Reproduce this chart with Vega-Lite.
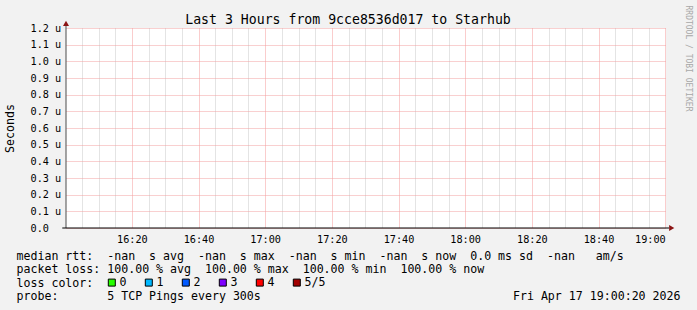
{
  "$schema": "https://vega.github.io/schema/vega-lite/v6.json",
  "width": 600,
  "height": 200,
  "autosize": {"type": "none"},
  "padding": {"left": 66, "top": 28, "right": 31, "bottom": 82},
  "background": "#f2f2f2",
  "title": {
    "text": "Last 3 Hours from 9cce8536d017 to Starhub",
    "font": "DejaVu Sans Mono",
    "fontSize": 13.2,
    "fontWeight": "normal",
    "color": "black",
    "anchor": "middle",
    "frame": "group",
    "dx": -18,
    "dy": 22,
    "offset": 0
  },
  "config": {
    "view": {"fill": "white", "stroke": null},
    "font": "DejaVu Sans Mono",
    "axis": {
      "labelFont": "DejaVu Sans Mono",
      "labelFontSize": 10.2,
      "labelColor": "black",
      "titleFont": "DejaVu Sans Mono",
      "titleFontSize": 11.6,
      "titleFontWeight": "normal",
      "titleColor": "black"
    },
    "legend": {
      "orient": "none",
      "legendX": 40,
      "legendY": 248.5,
      "direction": "horizontal",
      "labelFont": "DejaVu Sans Mono",
      "labelFontSize": 11.6,
      "labelColor": "black",
      "labelOffset": 2,
      "symbolType": "square",
      "symbolSize": 49,
      "symbolStrokeColor": "black",
      "symbolStrokeWidth": 1,
      "symbolOpacity": 1,
      "columnPadding": 16,
      "padding": 0
    }
  },
  "datasets": {
    "probes": [
      {"time": "2026-04-17T16:05:00", "median_rtt": null, "loss": "5/5"},
      {"time": "2026-04-17T16:10:00", "median_rtt": null, "loss": "5/5"},
      {"time": "2026-04-17T16:15:00", "median_rtt": null, "loss": "5/5"},
      {"time": "2026-04-17T16:20:00", "median_rtt": null, "loss": "5/5"},
      {"time": "2026-04-17T16:25:00", "median_rtt": null, "loss": "5/5"},
      {"time": "2026-04-17T16:30:00", "median_rtt": null, "loss": "5/5"},
      {"time": "2026-04-17T16:35:00", "median_rtt": null, "loss": "5/5"},
      {"time": "2026-04-17T16:40:00", "median_rtt": null, "loss": "5/5"},
      {"time": "2026-04-17T16:45:00", "median_rtt": null, "loss": "5/5"},
      {"time": "2026-04-17T16:50:00", "median_rtt": null, "loss": "5/5"},
      {"time": "2026-04-17T16:55:00", "median_rtt": null, "loss": "5/5"},
      {"time": "2026-04-17T17:00:00", "median_rtt": null, "loss": "5/5"},
      {"time": "2026-04-17T17:05:00", "median_rtt": null, "loss": "5/5"},
      {"time": "2026-04-17T17:10:00", "median_rtt": null, "loss": "5/5"},
      {"time": "2026-04-17T17:15:00", "median_rtt": null, "loss": "5/5"},
      {"time": "2026-04-17T17:20:00", "median_rtt": null, "loss": "5/5"},
      {"time": "2026-04-17T17:25:00", "median_rtt": null, "loss": "5/5"},
      {"time": "2026-04-17T17:30:00", "median_rtt": null, "loss": "5/5"},
      {"time": "2026-04-17T17:35:00", "median_rtt": null, "loss": "5/5"},
      {"time": "2026-04-17T17:40:00", "median_rtt": null, "loss": "5/5"},
      {"time": "2026-04-17T17:45:00", "median_rtt": null, "loss": "5/5"},
      {"time": "2026-04-17T17:50:00", "median_rtt": null, "loss": "5/5"},
      {"time": "2026-04-17T17:55:00", "median_rtt": null, "loss": "5/5"},
      {"time": "2026-04-17T18:00:00", "median_rtt": null, "loss": "5/5"},
      {"time": "2026-04-17T18:05:00", "median_rtt": null, "loss": "5/5"},
      {"time": "2026-04-17T18:10:00", "median_rtt": null, "loss": "5/5"},
      {"time": "2026-04-17T18:15:00", "median_rtt": null, "loss": "5/5"},
      {"time": "2026-04-17T18:20:00", "median_rtt": null, "loss": "5/5"},
      {"time": "2026-04-17T18:25:00", "median_rtt": null, "loss": "5/5"},
      {"time": "2026-04-17T18:30:00", "median_rtt": null, "loss": "5/5"},
      {"time": "2026-04-17T18:35:00", "median_rtt": null, "loss": "5/5"},
      {"time": "2026-04-17T18:40:00", "median_rtt": null, "loss": "5/5"},
      {"time": "2026-04-17T18:45:00", "median_rtt": null, "loss": "5/5"},
      {"time": "2026-04-17T18:50:00", "median_rtt": null, "loss": "5/5"},
      {"time": "2026-04-17T18:55:00", "median_rtt": null, "loss": "5/5"},
      {"time": "2026-04-17T19:00:00", "median_rtt": null, "loss": "5/5"}
    ],
    "single": [{}]
  },
  "layer": [
    {
      "data": {"name": "probes"},
      "mark": {"type": "square", "size": 49, "filled": true, "stroke": "black", "strokeWidth": 1},
      "encoding": {
        "x": {
          "field": "time", "type": "temporal",
          "scale": {"domain": [{"year": 2026, "month": 4, "date": 17, "hours": 16, "minutes": 0, "seconds": 15}, {"year": 2026, "month": 4, "date": 17, "hours": 19, "minutes": 0, "seconds": 15}]},
          "axis": {
            "orient": "bottom",
            "values": [
              {"year": 2026, "month": 4, "date": 17, "hours": 16, "minutes": 5},
              {"year": 2026, "month": 4, "date": 17, "hours": 16, "minutes": 10},
              {"year": 2026, "month": 4, "date": 17, "hours": 16, "minutes": 15},
              {"year": 2026, "month": 4, "date": 17, "hours": 16, "minutes": 25},
              {"year": 2026, "month": 4, "date": 17, "hours": 16, "minutes": 30},
              {"year": 2026, "month": 4, "date": 17, "hours": 16, "minutes": 35},
              {"year": 2026, "month": 4, "date": 17, "hours": 16, "minutes": 45},
              {"year": 2026, "month": 4, "date": 17, "hours": 16, "minutes": 50},
              {"year": 2026, "month": 4, "date": 17, "hours": 16, "minutes": 55},
              {"year": 2026, "month": 4, "date": 17, "hours": 17, "minutes": 5},
              {"year": 2026, "month": 4, "date": 17, "hours": 17, "minutes": 10},
              {"year": 2026, "month": 4, "date": 17, "hours": 17, "minutes": 15},
              {"year": 2026, "month": 4, "date": 17, "hours": 17, "minutes": 25},
              {"year": 2026, "month": 4, "date": 17, "hours": 17, "minutes": 30},
              {"year": 2026, "month": 4, "date": 17, "hours": 17, "minutes": 35},
              {"year": 2026, "month": 4, "date": 17, "hours": 17, "minutes": 45},
              {"year": 2026, "month": 4, "date": 17, "hours": 17, "minutes": 50},
              {"year": 2026, "month": 4, "date": 17, "hours": 17, "minutes": 55},
              {"year": 2026, "month": 4, "date": 17, "hours": 18, "minutes": 5},
              {"year": 2026, "month": 4, "date": 17, "hours": 18, "minutes": 10},
              {"year": 2026, "month": 4, "date": 17, "hours": 18, "minutes": 15},
              {"year": 2026, "month": 4, "date": 17, "hours": 18, "minutes": 25},
              {"year": 2026, "month": 4, "date": 17, "hours": 18, "minutes": 30},
              {"year": 2026, "month": 4, "date": 17, "hours": 18, "minutes": 35},
              {"year": 2026, "month": 4, "date": 17, "hours": 18, "minutes": 45},
              {"year": 2026, "month": 4, "date": 17, "hours": 18, "minutes": 50},
              {"year": 2026, "month": 4, "date": 17, "hours": 18, "minutes": 55}
            ],
            "grid": true, "gridColor": "#c8c8c8", "gridDash": [1, 1],
            "labels": false, "ticks": false, "tickSize": 0, "domain": false,
            "title": "Fri Apr 17 19:00:20 2026",
            "titleAlign": "right", "titleAnchor": "end", "titleBaseline": "alphabetic",
            "titleX": 614, "titleY": 71.5
          }
        },
        "y": {
          "field": "median_rtt", "type": "quantitative",
          "scale": {"domain": [0, 1.2e-6], "nice": false, "zero": true},
          "axis": {
            "orient": "right", "grid": false, "labels": false, "ticks": false, "domain": false,
            "title": "RRDTOOL / TOBI OETIKER",
            "titleAngle": 90, "titleAlign": "left", "titleBaseline": "middle",
            "titleX": 21.7, "titleY": -23, "titleFontSize": 8, "titleColor": "#a8a8a8"
          }
        },
        "color": {
          "field": "loss", "type": "nominal",
          "scale": {"domain": ["0", "1", "2", "3", "4", "5/5"], "range": ["#26ff00", "#00b8ff", "#0059ff", "#7e00ff", "#ff0000", "#a10000"]},
          "legend": {"title": null}
        }
      }
    },
    {
      "data": {"name": "single"},
      "mark": {"type": "rule", "color": "#4d4d4d", "strokeWidth": 1},
      "encoding": {
        "x": {"datum": {"year": 2026, "month": 4, "date": 17, "hours": 16, "minutes": 0, "seconds": 15}, "type": "temporal", "axis": null},
        "y": {
          "datum": 0, "type": "quantitative",
          "axis": {
            "orient": "left",
            "values": [0, 1e-7, 2e-7, 3e-7, 4e-7, 5e-7, 6e-7, 7e-7, 8e-7, 9e-7, 1e-6, 1.1e-6, 1.2e-6],
            "labelExpr": "datum.value === 0 ? '0.0' : format(datum.value * 1e6, '.1f') + ' u'",
            "labelAlign": "left",
            "grid": true, "gridColor": "#f2a0a0", "gridDash": [1, 1],
            "ticks": false, "tickSize": 0, "labelPadding": 36, "domain": false,
            "title": "Seconds", "titleAngle": 270, "titleAlign": "center", "titleBaseline": "middle",
            "titleX": -56, "titleY": 100
          }
        },
        "y2": {"datum": 1.2138e-6}
      }
    },
    {
      "data": {"name": "single"},
      "mark": {"type": "rule", "color": "black", "strokeWidth": 1},
      "encoding": {
        "x": {
          "datum": {"year": 2026, "month": 4, "date": 17, "hours": 15, "minutes": 59, "seconds": 8}, "type": "temporal",
          "axis": {
            "orient": "bottom",
            "values": [
              {"year": 2026, "month": 4, "date": 17, "hours": 16, "minutes": 20},
              {"year": 2026, "month": 4, "date": 17, "hours": 16, "minutes": 40},
              {"year": 2026, "month": 4, "date": 17, "hours": 17, "minutes": 0},
              {"year": 2026, "month": 4, "date": 17, "hours": 17, "minutes": 20},
              {"year": 2026, "month": 4, "date": 17, "hours": 17, "minutes": 40},
              {"year": 2026, "month": 4, "date": 17, "hours": 18, "minutes": 0},
              {"year": 2026, "month": 4, "date": 17, "hours": 18, "minutes": 20},
              {"year": 2026, "month": 4, "date": 17, "hours": 18, "minutes": 40},
              {"year": 2026, "month": 4, "date": 17, "hours": 19, "minutes": 0}
            ],
            "format": "%H:%M",
            "grid": true, "gridColor": "#f59a9a", "gridDash": [1, 1],
            "ticks": false, "tickSize": 0, "labelPadding": 6, "domain": false,
            "title": [
              "median rtt: \u00a0-nan \u00a0s avg \u00a0-nan \u00a0s max \u00a0-nan \u00a0s min \u00a0-nan \u00a0s now \u00a00.0 ms sd \u00a0-nan \u00a0\u00a0am/s",
              "packet loss: 100.00 % avg \u00a0100.00 % max \u00a0100.00 % min \u00a0100.00 % now",
              "loss color:",
              "probe: \u00a0\u00a0\u00a0\u00a0\u00a0\u00a05 TCP Pings every 300s"
            ],
            "titleAlign": "left", "titleAnchor": "start", "titleBaseline": "alphabetic",
            "titleX": -50, "titleY": 31, "titleLineHeight": 13.5
          }
        },
        "x2": {"datum": {"year": 2026, "month": 4, "date": 17, "hours": 19, "minutes": 1, "seconds": 9}},
        "y": {"datum": 0, "type": "quantitative", "axis": null}
      }
    },
    {
      "data": {"name": "single"},
      "mark": {"type": "point", "shape": "triangle-up", "filled": true, "color": "#8b1414", "size": 36, "opacity": 1},
      "encoding": {
        "x": {"datum": {"year": 2026, "month": 4, "date": 17, "hours": 16, "minutes": 0, "seconds": 15}, "type": "temporal", "axis": null},
        "y": {"datum": 1.228e-6, "type": "quantitative", "axis": null}
      }
    },
    {
      "data": {"name": "single"},
      "mark": {"type": "point", "shape": "triangle-right", "filled": true, "color": "#8b1414", "size": 36, "opacity": 1},
      "encoding": {
        "x": {"datum": {"year": 2026, "month": 4, "date": 17, "hours": 19, "minutes": 1, "seconds": 58}, "type": "temporal", "axis": null},
        "y": {"datum": 0, "type": "quantitative", "axis": null}
      }
    }
  ],
  "resolve": {"axis": {"x": "independent", "y": "independent"}}
}
